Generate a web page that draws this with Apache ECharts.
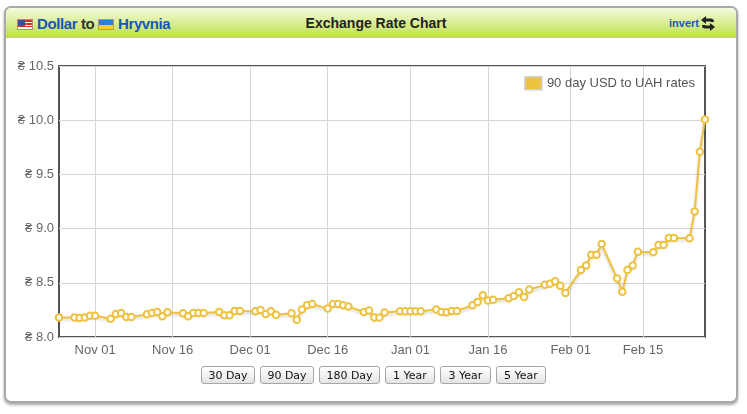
<!DOCTYPE html>
<html>
<head>
<meta charset="utf-8">
<title>Dollar to Hryvnia - Exchange Rate Chart</title>
<script src="https://cdn.jsdelivr.net/npm/echarts@6/dist/echarts.min.js"></script>
<style>
    html, body { margin: 0; padding: 0; background: #fff; }
    body { width: 747px; height: 414px; position: relative; overflow: hidden; font-family: "Liberation Sans", Arial, sans-serif; }
    .card {
        position: absolute; left: 4px; top: 6px; width: 730px; height: 393px;
        border: 2px solid #a9a9a9; border-radius: 7px; background: #fff;
        box-shadow: 0 2px 3px rgba(0, 0, 0, 0.35); overflow: hidden;
    }
    .head {
        position: absolute; left: 0; top: 0; right: 0; height: 30px;
        background: linear-gradient(#f4fbe2, #bde043);
    }
    .pair { position: absolute; left: 11px; top: 7px; font-weight: bold; font-size: 15px; color: #333; letter-spacing: -0.4px; }
    .pair a { color: #1a56b8; text-decoration: none; }
    .flag { display: inline-block; width: 16px; height: 11px; vertical-align: -1px; margin-right: 4px; box-sizing: border-box; }
    .us { background: linear-gradient(#3a4fa0, #3a4fa0) 0 0 / 7px 6px no-repeat,
          repeating-linear-gradient(#d43030 0 1.5px, #fff 1.5px 3px); border: 1px solid #b88; }
    .ua { background: linear-gradient(#2d7fd6 50%, #f3d02a 50%); border: 1px solid #b9a040; }
    .title { position: absolute; left: 10px; right: 0; top: 7px; text-align: center; font-weight: bold; font-size: 14px; color: #222; }
    .invert { position: absolute; right: 37px; top: 9px; font-weight: bold; font-size: 11px; color: #1a56b8; }
    .invert svg { position: absolute; left: 31px; top: -2px; }
    #chart { position: absolute; left: 0; top: 0; width: 747px; height: 414px; }
    .ranges { position: absolute; left: 0; top: 366px; width: 747px; display: flex; justify-content: center; gap: 5px; padding-left: 0; }
    .ranges button {
        height: 18px; padding: 0; font-family: "DejaVu Sans", sans-serif; font-size: 11px; color: #111;
        border: 1px solid #a6a6a6; border-radius: 3px; background: linear-gradient(#ffffff, #e4e4e4);
    }
</style>
</head>
<body>
<div class="card">
    <div class="head">
        <div class="pair"><span class="flag us"></span><a href="#">Dollar</a> to <span class="flag ua"></span><a href="#">Hryvnia</a></div>
        <div class="title">Exchange Rate Chart</div>
        <div class="invert">invert
            <svg width="16" height="17" viewBox="0 0 16 17">
                <path d="M1 5 L6 1 L6 3.5 L11 3.5 Q14 3.5 14 7 L11 7 Q11 6.5 10 6.5 L6 6.5 L6 9 Z" fill="#222"/>
                <path d="M15 12 L10 16 L10 13.5 L5 13.5 Q2 13.5 2 10 L5 10 Q5 10.5 6 10.5 L10 10.5 L10 8 Z" fill="#222"/>
            </svg>
        </div>
    </div>
</div>
<div id="chart"></div>
<div class="ranges">
    <button style="width:54px">30 Day</button>
    <button style="width:54px">90 Day</button>
    <button style="width:61px">180 Day</button>
    <button style="width:50px">1 Year</button>
    <button style="width:51px">3 Year</button>
    <button style="width:50px">5 Year</button>
</div>
<script>
// trading days shown on the chart (one line per week)
const dates = [
    '2013-10-25',
    '2013-10-28', '2013-10-29', '2013-10-30', '2013-10-31', '2013-11-01',
    '2013-11-04', '2013-11-05', '2013-11-06', '2013-11-07', '2013-11-08',
    '2013-11-11', '2013-11-12', '2013-11-13', '2013-11-14', '2013-11-15',
    '2013-11-18', '2013-11-19', '2013-11-20', '2013-11-21', '2013-11-22',
    '2013-11-25', '2013-11-26', '2013-11-27', '2013-11-28', '2013-11-29',
    '2013-12-02', '2013-12-03', '2013-12-04', '2013-12-05', '2013-12-06',
    '2013-12-09', '2013-12-10', '2013-12-11', '2013-12-12', '2013-12-13',
    '2013-12-16', '2013-12-17', '2013-12-18', '2013-12-19', '2013-12-20',
    '2013-12-23', '2013-12-24', '2013-12-25', '2013-12-26', '2013-12-27',
    '2013-12-30', '2013-12-31', '2014-01-01', '2014-01-02', '2014-01-03',
    '2014-01-06', '2014-01-07', '2014-01-08', '2014-01-09', '2014-01-10',
    '2014-01-13', '2014-01-14', '2014-01-15', '2014-01-16', '2014-01-17',
    '2014-01-20', '2014-01-21', '2014-01-22', '2014-01-23', '2014-01-24',
    '2014-01-27', '2014-01-28', '2014-01-29', '2014-01-30', '2014-01-31',
    '2014-02-03', '2014-02-04', '2014-02-05', '2014-02-06', '2014-02-07',
    '2014-02-10', '2014-02-11', '2014-02-12', '2014-02-13', '2014-02-14',
    '2014-02-17', '2014-02-18', '2014-02-19', '2014-02-20', '2014-02-21',
    '2014-02-24', '2014-02-25', '2014-02-26', '2014-02-27'
];

// USD -> UAH
const rates = [
    8.181,
    8.181, 8.176, 8.179, 8.197, 8.197,
    8.169, 8.213, 8.222, 8.185, 8.185,
    8.209, 8.222, 8.231, 8.191, 8.228,
    8.219, 8.191, 8.222, 8.222, 8.222,
    8.231, 8.200, 8.200, 8.241, 8.241,
    8.237, 8.250, 8.213, 8.237, 8.206,
    8.219, 8.160, 8.253, 8.293, 8.305,
    8.262, 8.305, 8.305, 8.293, 8.281,
    8.231, 8.244, 8.181, 8.181, 8.225,
    8.237, 8.237, 8.237, 8.237, 8.237,
    8.253, 8.231, 8.228, 8.241, 8.241,
    8.293, 8.324, 8.385, 8.336, 8.343,
    8.358, 8.379, 8.413, 8.369, 8.438,
    8.481, 8.491, 8.515, 8.472, 8.407,
    8.617, 8.660, 8.759, 8.759, 8.857,
    8.540, 8.417, 8.617, 8.660, 8.787,
    8.781, 8.848, 8.848, 8.913, 8.913,
    8.910, 9.157, 9.709, 10.006
];

const tickDates = ['2013-11-01', '2013-11-16', '2013-12-01', '2013-12-16', '2014-01-01', '2014-01-16', '2014-02-01', '2014-02-15'];
const tickLabels = ['Nov 01', 'Nov 16', 'Dec 01', 'Dec 16', 'Jan 01', 'Jan 16', 'Feb 01', 'Feb 15'];

const seriesName = '90 day USD to UAH rates';
const lineColor = '#edc240';

function toTime(s) {
    const p = s.split('-').map(Number);
    return new Date(p[0], p[1] - 1, p[2]).getTime();
}

const tickTimes = tickDates.map(toTime);

const chart = echarts.init(document.getElementById('chart'));

chart.setOption({
    backgroundColor: 'transparent',
    animation: false,
    textStyle: { fontFamily: '"Liberation Sans", Arial, sans-serif' },
    grid: {
        left: 59, right: 42, top: 66, bottom: 77,
        show: true, borderColor: '#545454', borderWidth: 2, backgroundColor: 'transparent'
    },
    legend: {
        right: 47, top: 71,
        itemWidth: 17, itemHeight: 13, itemGap: 5,
        textStyle: { color: '#545454', fontSize: 13 },
        data: [{
            name: seriesName,
            icon: 'rect',
            itemStyle: { color: lineColor, borderColor: '#d0d0d0', borderWidth: 1.5 }
        }]
    },
    xAxis: {
        // timestamps on a value axis so the ticks can sit on the 1st / 16th
        type: 'value',
        min: toTime(dates[0]),
        max: toTime(dates[dates.length - 1]),
        axisLine: { show: false },
        axisTick: { show: false, customValues: tickTimes },
        axisLabel: {
            customValues: tickTimes,
            color: '#666', fontSize: 13, margin: 7,
            formatter: (v) => {
                const i = tickTimes.indexOf(v);
                return i >= 0 ? tickLabels[i] : '';
            }
        },
        splitLine: { show: true, lineStyle: { color: '#d6d6d6', width: 1 } }
    },
    yAxis: {
        type: 'value',
        min: 8, max: 10.5, interval: 0.5,
        axisLine: { show: false },
        axisTick: { show: false },
        axisLabel: {
            color: '#666', fontSize: 13, margin: 5,
            formatter: (v) => '₴ ' + v.toFixed(1)
        },
        splitLine: { show: true, lineStyle: { color: '#d6d6d6', width: 1 } }
    },
    series: [{
        name: seriesName,
        type: 'line',
        data: dates.map((d, i) => [toTime(d), rates[i]]),
        symbol: 'circle',
        symbolSize: 6.5,
        showAllSymbol: true,
        itemStyle: { color: '#ffffff', borderColor: lineColor, borderWidth: 2 },
        lineStyle: {
            color: lineColor, width: 2,
            shadowColor: 'rgba(0,0,0,0.18)', shadowBlur: 3, shadowOffsetY: 2
        }
    }]
});

window.addEventListener('resize', () => chart.resize());
</script>
</body>
</html>
